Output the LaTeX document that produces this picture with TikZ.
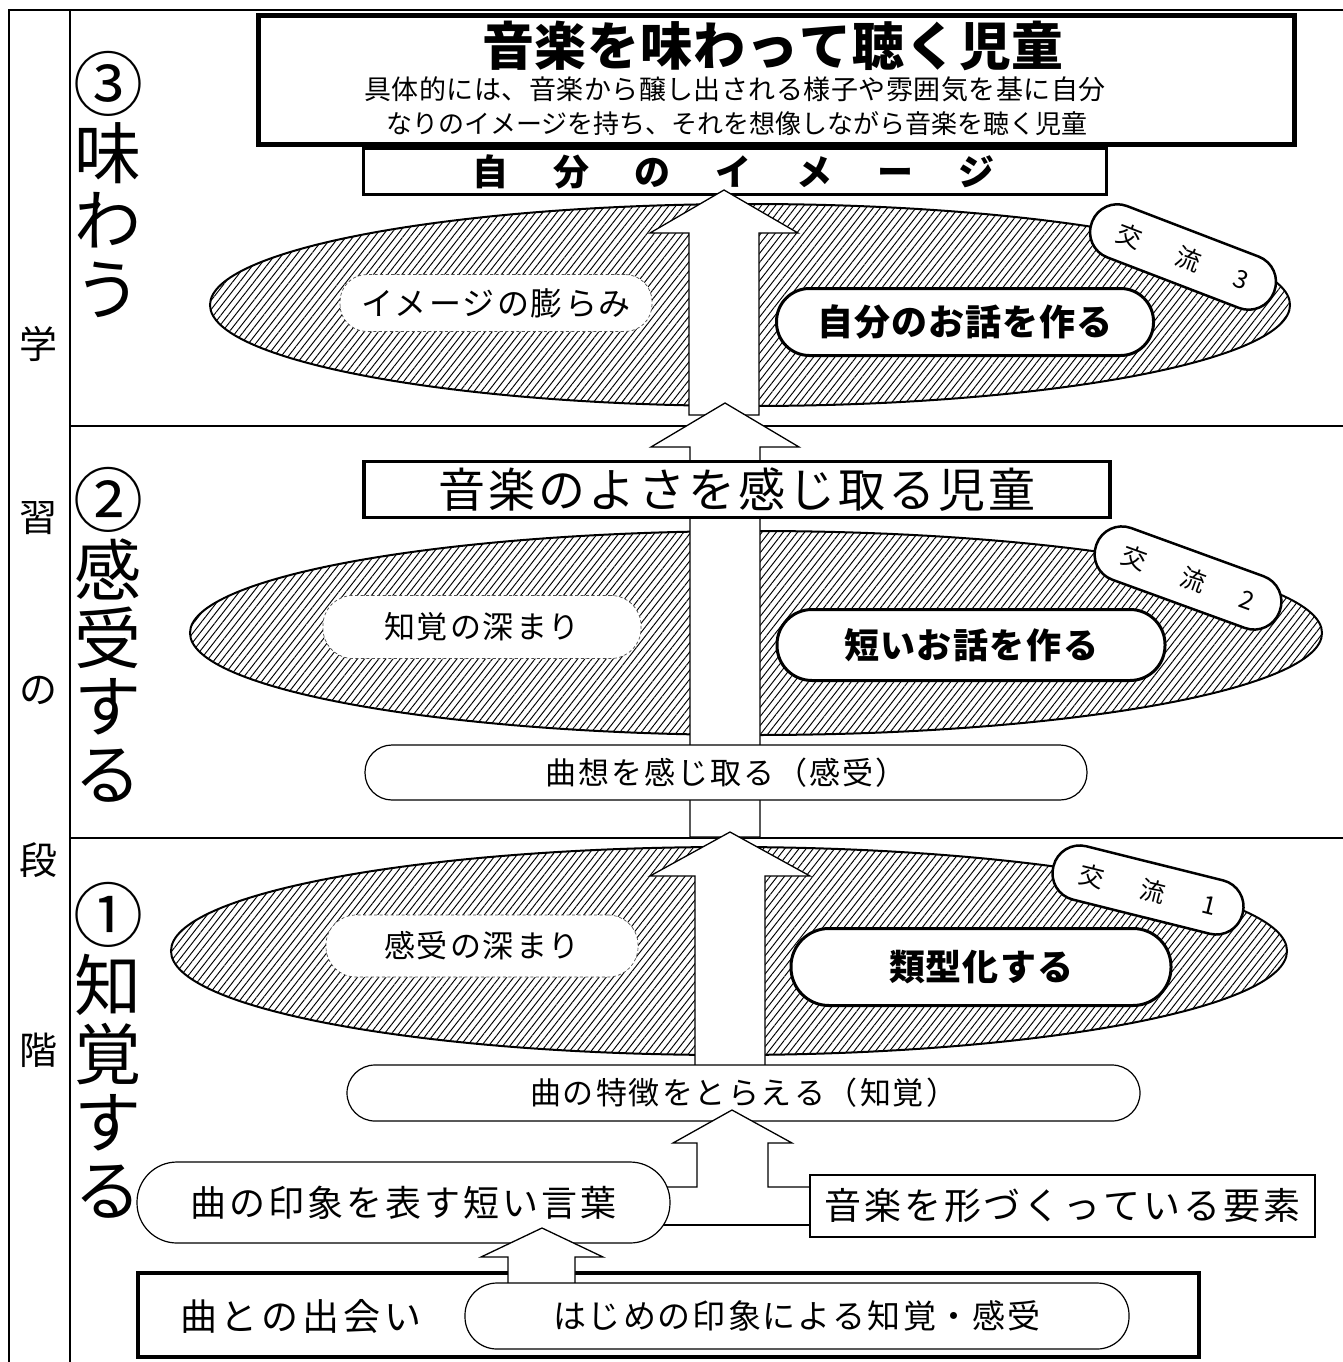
\documentclass[tikz,border=0pt]{standalone}
\usepackage{fontspec}
\setmainfont{Noto Sans CJK JP}
\usetikzlibrary{patterns.meta}
\newcommand\fs[1]{\fontsize{#1pt}{#1pt}\selectfont}
\newcommand\sptext[2]{\def\spx{#1}\spLoop#2\relax}
\def\spLoop#1{\ifx\relax#1\else#1\expandafter\spTail\fi}
\def\spTail#1{\ifx\relax#1\else\hspace{\spx pt}#1\expandafter\spTail\fi}
\tikzset{
  frame/.style={line width=2pt},
  hatch/.style={draw, line width=2pt, pattern={Lines[angle=52,distance=5.6pt,line width=0.95pt]}},
  dashbox/.style={fill=white, draw=black!70, line width=0.7pt, dash pattern=on 3pt off 2.5pt, inner sep=0pt},
  boldbox/.style={fill=white, draw, line width=3pt, inner sep=0pt},
  pill/.style={fill=white, draw, line width=1.2pt, inner sep=0pt},
  rectbox/.style={fill=white, draw, inner sep=0pt},
  blockarrow/.style={fill=white, draw, line width=1.3pt, line join=miter},
  koryu/.style={fill=white, draw, line width=2.5pt, rounded corners=27pt, minimum width=195pt, minimum height=55pt, inner sep=0pt},
  lbl/.style={inner sep=0pt}
}
\begin{document}
\begin{tikzpicture}[x=1pt,y=-1pt]
\useasboundingbox (0,0) rectangle (1343,1362);
% frame
\draw[frame] (9,1362) -- (9,10) -- (1343,10);
\draw[frame] (70,10) -- (70,1362);
\draw[frame] (70,426) -- (1343,426);
\draw[frame] (70,838) -- (1343,838);
% left column
\node[lbl,font=\fs{38}] (c1) at (38,344) {学};
\node[lbl,font=\fs{38}] (c2) at (38,518) {習};
\node[lbl,font=\fs{38}] (c3) at (38,690) {の};
\node[lbl,font=\fs{38}] (c4) at (38,860) {段};
\node[lbl,font=\fs{38}] (c5) at (38,1050) {階};
% stage labels
\node[lbl,font=\fs{70}] (s3n) at (108,84) {③};
\node[lbl,font=\fs{67}] (s3a) at (108,153) {味};
\node[lbl,font=\fs{67}] (s3b) at (108,220) {わ};
\node[lbl,font=\fs{67}] (s3c) at (108,290) {う};
\node[lbl,font=\fs{70}] (s2n) at (108,500) {②};
\node[lbl,font=\fs{67}] (s2a) at (108,569) {感};
\node[lbl,font=\fs{67}] (s2b) at (108,638) {受};
\node[lbl,font=\fs{67}] (s2c) at (108,707) {す};
\node[lbl,font=\fs{67}] (s2d) at (108,776) {る};
\node[lbl,font=\fs{70}] (s1n) at (108,915) {①};
\node[lbl,font=\fs{67}] (s1a) at (108,985) {知};
\node[lbl,font=\fs{67}] (s1b) at (108,1054) {覚};
\node[lbl,font=\fs{67}] (s1c) at (108,1123) {す};
\node[lbl,font=\fs{67}] (s1d) at (108,1192) {る};
% ellipses
\draw[hatch] (750,305) ellipse [x radius=540, y radius=101];
\draw[hatch] (756,633) ellipse [x radius=566, y radius=102];
\draw[hatch] (729,951) ellipse [x radius=558, y radius=104];
% top boxes
\node[rectbox, line width=3pt, minimum width=743pt, minimum height=46pt] (img) at (735,171) {};
\node[rectbox, line width=5pt, minimum width=1036pt, minimum height=129pt] (top) at (776.5,80) {};
% big arrows
\draw[blockarrow] (689,415) -- (689,233) -- (650,233) -- (724,190) -- (798,233) -- (759,233) -- (759,415) -- cycle;
\draw[blockarrow] (690,837) -- (690,447) -- (651,447) -- (725,403) -- (799,447) -- (760,447) -- (760,837) -- cycle;
\draw[blockarrow] (695,1080) -- (695,876) -- (650,876) -- (730,832) -- (810,876) -- (765,876) -- (765,1080) -- cycle;
% top texts
\node[lbl,font=\fs{52}\bfseries] (title) at (773,46) {\sptext{1}{音楽を味わって聴く児童}};
\node[lbl,font=\fs{27}] (l2) at (735,89) {\sptext{0.5}{具体的には、音楽から醸し出される様子や雰囲気を基に自分}};
\node[lbl,font=\fs{26}] (l3) at (737,124) {なりのイメージを持ち、それを想像しながら音楽を聴く児童};
\node[lbl,font=\fs{36}\bfseries] (imgt) at (733,172) {\sptext{45}{自分のイメージ}};
% stage 3 contents
\node[dashbox, rounded corners=27pt, minimum width=312pt, minimum height=57pt, font=\fs{32}] (ex3) at (496,303) {\sptext{2}{イメージの膨らみ}};
\node[boldbox, rounded corners=33pt, minimum width=377pt, minimum height=67pt, font=\fs{36}\bfseries] (b3) at (965,322) {\sptext{1}{自分のお話を作る}};
\node[koryu, rotate=-21, font=\fs{25}] (k3) at (1183,257) {交\hspace{38pt}流\hspace{38pt}3};
% stage 2 contents
\node[rectbox, line width=3.5pt, minimum width=746pt, minimum height=56pt, font=\fs{47}] (good) at (737,489.5) {\sptext{3}{音楽のよさを感じ取る児童}};
\node[dashbox, rounded corners=30pt, minimum width=318pt, minimum height=63pt, font=\fs{31}] (ex2) at (482,627) {\sptext{2}{知覚の深まり}};
\node[boldbox, rounded corners=35pt, minimum width=388pt, minimum height=71pt, font=\fs{35}\bfseries] (b2) at (971,645) {\sptext{1.5}{短いお話を作る}};
\node[koryu, rotate=-20, font=\fs{25}] (k2) at (1188,578) {交\hspace{38pt}流\hspace{38pt}2};
\node[pill, rounded corners=27pt, minimum width=722pt, minimum height=55pt, font=\fs{31}] (kyoso) at (726,772.5) {\sptext{2}{曲想を感じ取る（感受）}\hspace{18pt}};
% stage 1 contents
\node[dashbox, rounded corners=30pt, minimum width=312pt, minimum height=62pt, font=\fs{31}] (ex1) at (482,946) {\sptext{2}{感受の深まり}};
\node[boldbox, rounded corners=38pt, minimum width=380pt, minimum height=77pt, font=\fs{36}\bfseries] (b1) at (981,967) {\sptext{1}{類型化する}};
\node[koryu, rotate=-14, font=\fs{25}] (k1) at (1148,890) {交\hspace{38pt}流\hspace{38pt}1};
\node[pill, rounded corners=28pt, minimum width=793pt, minimum height=56pt, font=\fs{31}] (feat) at (743.5,1093) {\sptext{2}{曲の特徴をとらえる（知覚）}\hspace{16pt}};
% merging arrow
\draw[blockarrow] (640,1187) -- (697,1187) -- (697,1143) -- (673,1143) -- (732,1110) -- (792,1143) -- (768,1143) -- (768,1187) -- (810,1187);
\draw[line width=1.3pt] (640,1225) -- (810,1225);
\node[pill, rounded corners=40pt, minimum width=533pt, minimum height=81pt, font=\fs{36}] (impr) at (403.5,1202.5) {\sptext{3}{曲の印象を表す短い言葉}};
\node[rectbox, line width=2pt, minimum width=505pt, minimum height=62pt, font=\fs{37}] (elem) at (1062.5,1206) {\sptext{3}{音楽を形づくっている要素}};
% bottom
\node[rectbox, line width=4pt, minimum width=1061pt, minimum height=84pt] (meet) at (668.5,1315) {};
\node[lbl, font=\fs{37}] (meett) at (301,1316) {\sptext{4}{曲との出会い}};
\draw[blockarrow] (508,1290) -- (508,1257) -- (481,1257) -- (542,1228) -- (603,1257) -- (575,1257) -- (575,1290) -- cycle;
\node[pill, rounded corners=32pt, minimum width=664pt, minimum height=66pt, font=\fs{33}] (first) at (797,1316) {\sptext{2}{はじめの印象による知覚・感受}};
\end{tikzpicture}
\end{document}
